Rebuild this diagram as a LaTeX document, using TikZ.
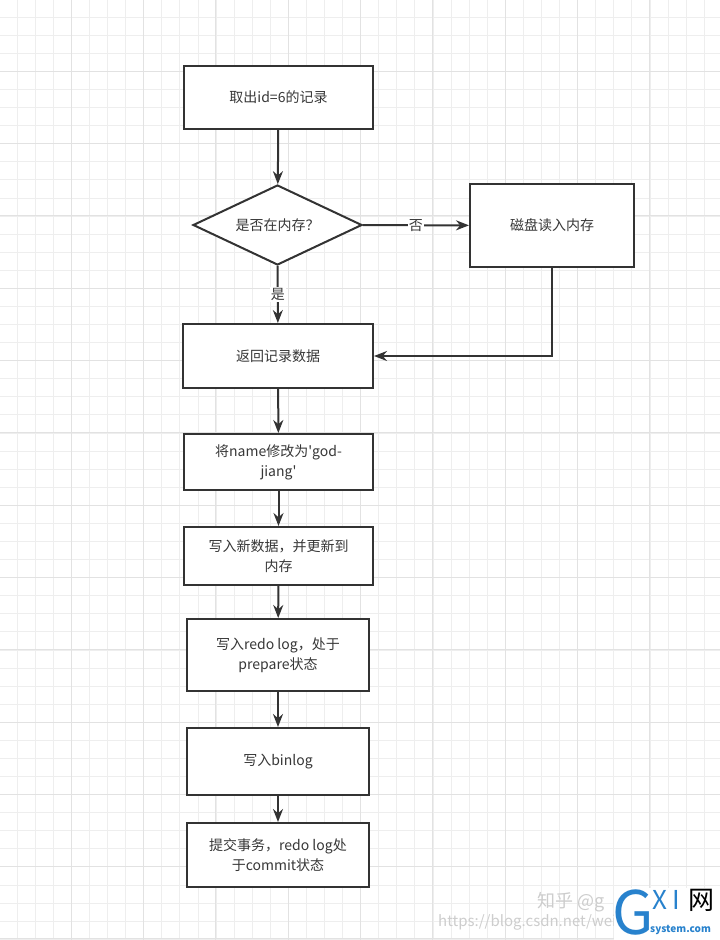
\documentclass[tikz,border=0pt]{standalone}
\usepackage{fontspec}
\setmainfont{Noto Sans CJK SC}[Ligatures=TeXOff]
\usepackage{tikz}
\usetikzlibrary{calc,positioning,arrows.meta,shapes.geometric}
\usepackage{xcolor}
\definecolor{mygrid}{RGB}{238,238,238}
\definecolor{mygridbig}{RGB}{226,226,226}
\definecolor{myline}{RGB}{51,51,51}
\definecolor{mytext}{RGB}{55,55,55}
\definecolor{mymark}{RGB}{205,205,205}
\definecolor{mylogo}{RGB}{40,130,205}

\tikzset{
  box/.style={draw=myline, line width=2pt, rectangle, fill=white, align=center,
    inner sep=2pt, font=\fontsize{14}{20}\selectfont, text=mytext},
  ask/.style={draw=myline, line width=2pt, diamond, fill=white, inner sep=0pt,
    minimum width=169pt, minimum height=80pt, font=\fontsize{14}{16}\selectfont, text=mytext},
  flow/.style={draw=myline, line width=2pt, -{Stealth[length=13pt,width=10pt]}},
  tag/.style={fill=white, inner sep=1pt, font=\fontsize{14}{16}\selectfont, text=mytext}
}

\begin{document}
\begin{tikzpicture}[x=1pt, y=-1pt]
  \fill[white] (0,0) rectangle (720,940);
  \useasboundingbox (0,0) rectangle (720,940);

  % grid
  \foreach \i in {0,...,39} {
    \draw[mygrid, line width=0.8pt] ({17.1+18.08*\i},0) -- ++(0,940);
  }
  \foreach \i in {0,...,51} {
    \draw[mygrid, line width=0.8pt] (0,{17.1+18.08*\i}) -- ++(720,0);
  }
  \foreach \i in {0,...,9} {
    \draw[mygridbig, line width=1pt] ({71.3+72.3*\i},0) -- ++(0,940);
  }
  \foreach \i in {0,...,12} {
    \draw[mygridbig, line width=1pt] (0,{71.3+72.3*\i}) -- ++(720,0);
  }

  % main column
  \node[box, minimum width=189pt, minimum height=63pt] (fetch) at (278.5,97.5) {取出id=6的记录};
  \node[ask] (inmem) at (277.5,225) {\makebox[0pt]{是否在内存？}};
  \node[box, minimum width=164pt, minimum height=83pt] (disk) at (552,225.5) {磁盘读入内存};
  \node[box, minimum width=190pt, minimum height=64pt] (back) at (278,356) {返回记录数据};
  \node[box, minimum width=189pt, minimum height=56pt] (rename) at (278.5,462) {将name修改为'god-\\jiang'};
  \node[box, minimum width=189pt, minimum height=58pt] (write) at (278.5,556) {写入新数据，并更新到\\内存};
  \node[box, minimum width=182pt, minimum height=72pt] (redo) at (278,655) {写入redo log，处于\\prepare状态};
  \node[box, minimum width=182pt, minimum height=67pt] (binlog) at (278,761.5) {写入binlog};
  \node[box, minimum width=182pt, minimum height=64pt] (commit) at (278,855) {提交事务，redo log处\\于commit状态};

  % connectors
  \draw[flow] (fetch) -- (inmem);
  \draw[flow] (inmem) -- node[tag]{否} (disk);
  \draw[flow] (inmem) -- node[tag]{是} (back);
  \draw[flow] (disk.south) |- (back.east);
  \draw[flow] (back) -- (rename);
  \draw[flow] (rename) -- (write);
  \draw[flow] (write) -- (redo);
  \draw[flow] (redo) -- (binlog);
  \draw[flow] (binlog) -- (commit);

  % watermark
  \node[mymark, font=\fontsize{18}{18}\selectfont, anchor=west, inner sep=0pt] (zhihu) at (537,902) {知乎 @g};
  \node[mymark, font=\fontsize{15}{15}\selectfont, anchor=west, inner sep=0pt] (csdn) at (438,922) {https://blog.csdn.net/wei};
  \fill[white] (614,888) rectangle (720,940);
  \node[mylogo, font=\fontsize{60}{60}\selectfont, anchor=west, inner sep=0pt] (logoG) at (612,912) {G};
  \node[mylogo, font=\fontsize{26}{26}\selectfont\itshape, anchor=west, inner sep=0pt] (logoXI) at (652,900) {X I};
  \node[black, font=\fontsize{26}{26}\selectfont, anchor=west, inner sep=0pt] (logoW) at (688,900) {网};
  \node[mylogo, font=\fontsize{10}{10}\selectfont\bfseries, anchor=west, inner sep=0pt] (logoS) at (650,930) {system.com};
\end{tikzpicture}
\end{document}
